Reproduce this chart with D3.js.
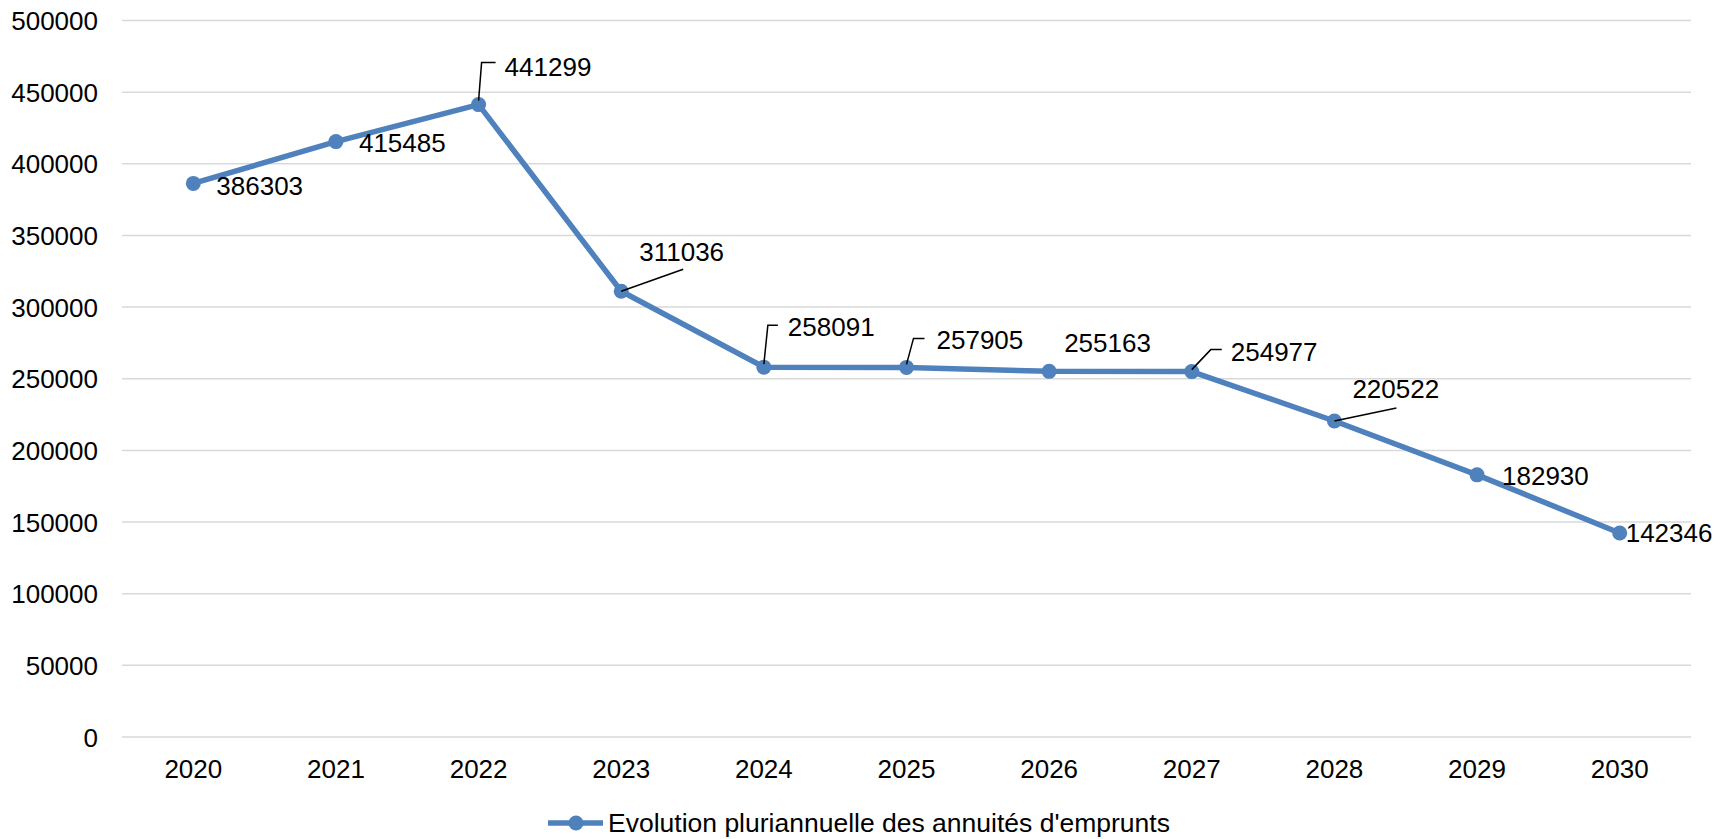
<!DOCTYPE html>
<html>
<head>
<meta charset="utf-8">
<script src="https://cdn.jsdelivr.net/npm/d3@7"></script>
<style>
  html, body { margin: 0; padding: 0; background: #ffffff; }
  svg { display: block; }
  text { font-family: "Liberation Sans", Arial, sans-serif; fill: #000000; }
</style>
</head>
<body>
<svg id="chart" width="1732" height="839"></svg>
<script>
// Annual loan repayments, 2020-2030
const years = ["2020", "2021", "2022", "2023", "2024", "2025", "2026", "2027", "2028", "2029", "2030"];
const annuites = [386303, 415485, 441299, 311036, 258091, 257905, 255163, 254977, 220522, 182930, 142346];
const yTicks = [0, 50000, 100000, 150000, 200000, 250000, 300000, 350000, 400000, 450000, 500000];
const seriesName = "Evolution pluriannuelle des annuités d'emprunts";

// Label placement relative to each point: text offset and optional leader-line bend/end
const labelOffsets = [
  { dx: 23, dy: 2 },
  { dx: 23, dy: 1 },
  { dx: 26, dy: -38, leader: [[0, -4], [3, -42], [17, -42]] },
  { dx: 18, dy: -39, leader: [[0, 0], [62, -22]] },
  { dx: 24, dy: -40, leader: [[0, -3], [4, -42], [14, -42]] },
  { dx: 30, dy: -28, leader: [[0, -3], [7, -29], [18, -29]] },
  { dx: 15, dy: -28 },
  { dx: 39, dy: -20, leader: [[0, -2], [19, -22], [30, -22]] },
  { dx: 18, dy: -32, leader: [[0, 0], [62, -13]] },
  { dx: 25, dy: 1 },
  { dx: 6, dy: 0 }
];

const color = "#4F81BD";
const fontSize = 26;

const svg = d3.select("#chart");

const x = d3.scaleBand().domain(years).range([122, 1691]).padding(0);
const y = d3.scaleLinear().domain([0, 500000]).range([737, 20.5]);
const cx = d => x(d) + x.bandwidth() / 2;

// Horizontal gridlines
svg.append("g")
  .selectAll("line")
  .data(yTicks)
  .join("line")
  .attr("x1", 122).attr("x2", 1691)
  .attr("y1", d => y(d)).attr("y2", d => y(d))
  .attr("stroke", "#d9d9d9")
  .attr("stroke-width", 1.5);

// Y axis labels
const yAxis = d3.axisLeft(y).tickValues(yTicks).tickSize(0).tickPadding(0).tickFormat(d3.format("d"));
svg.append("g")
  .attr("transform", "translate(98,0)")
  .call(yAxis)
  .call(g => g.select(".domain").remove())
  .call(g => g.selectAll("text")
    .attr("font-size", fontSize)
    .attr("font-family", "Liberation Sans, Arial, sans-serif")
    .attr("fill", "#000")
    .attr("dy", "0.35em")
    .attr("x", 0));

// X axis labels
const xAxis = d3.axisBottom(x).tickSize(0).tickPadding(0);
svg.append("g")
  .attr("transform", "translate(0,760)")
  .call(xAxis)
  .call(g => g.select(".domain").remove())
  .call(g => g.selectAll("text")
    .attr("font-size", fontSize)
    .attr("font-family", "Liberation Sans, Arial, sans-serif")
    .attr("fill", "#000")
    .attr("dy", "0.35em")
    .attr("y", 9));

const pts = years.map((yr, i) => ({ year: yr, value: annuites[i], off: labelOffsets[i] }));

// Series line
const line = d3.line().x(d => cx(d.year)).y(d => y(d.value));
svg.append("path")
  .datum(pts)
  .attr("d", line)
  .attr("fill", "none")
  .attr("stroke", color)
  .attr("stroke-width", 5.5)
  .attr("stroke-linejoin", "round");

// Markers
svg.append("g")
  .selectAll("circle")
  .data(pts)
  .join("circle")
  .attr("cx", d => cx(d.year))
  .attr("cy", d => y(d.value))
  .attr("r", 7.5)
  .attr("fill", color);

// Leader lines
svg.append("g")
  .selectAll("path")
  .data(pts.filter(d => d.off.leader))
  .join("path")
  .attr("d", d => d3.line()(d.off.leader.map(p => [cx(d.year) + p[0], y(d.value) + p[1]])))
  .attr("fill", "none")
  .attr("stroke", "#000")
  .attr("stroke-width", 1.5);

// Data labels
svg.append("g")
  .selectAll("text")
  .data(pts)
  .join("text")
  .attr("x", d => cx(d.year) + d.off.dx)
  .attr("y", d => y(d.value) + d.off.dy)
  .attr("dy", "0.35em")
  .attr("font-size", fontSize)
  .text(d => d.value);

// Legend
const legend = svg.append("g").attr("transform", "translate(0,823)");
legend.append("line")
  .attr("x1", 548).attr("x2", 603)
  .attr("y1", 0).attr("y2", 0)
  .attr("stroke", color)
  .attr("stroke-width", 5.5);
legend.append("circle")
  .attr("cx", 576).attr("cy", 0).attr("r", 7.5)
  .attr("fill", color);
legend.append("text")
  .attr("x", 608).attr("y", 0)
  .attr("dy", "0.35em")
  .attr("font-size", 26.5)
  .text(seriesName);
</script>
</body>
</html>
